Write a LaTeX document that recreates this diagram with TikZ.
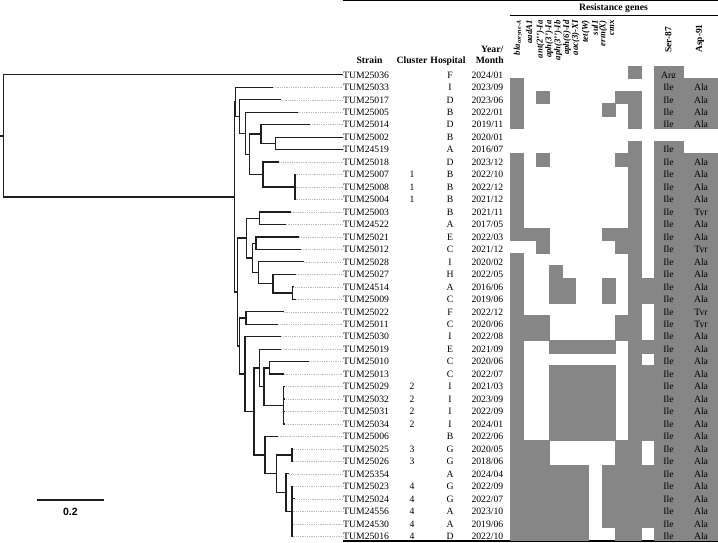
\documentclass[tikz,border=0pt]{standalone}
\usepackage{fontspec}
\setmainfont{Liberation Serif}
\newfontfamily\sansfnt{Liberation Sans}
\definecolor{cellg}{RGB}{134,134,134}
\definecolor{treec}{RGB}{30,30,30}
\definecolor{leadc}{RGB}{185,185,185}
\begin{document}
\begin{tikzpicture}[x=1pt,y=-1pt,
  txt/.style={inner sep=0pt,font=\fontsize{9.7}{11}\selectfont},
  hdr/.style={inner sep=0pt,font=\fontsize{9.7}{11}\selectfont\bfseries},
  gl/.style={inner sep=0pt,rotate=90,anchor=east,font=\fontsize{8.8}{10}\selectfont\bfseries\itshape},
  hrot/.style={inner sep=0pt,rotate=90,font=\fontsize{9.4}{11}\selectfont\bfseries},
  tree/.style={draw=treec,line width=1.25pt},
  leader/.style={draw=leadc,line width=0.45pt,dash pattern=on 0.9pt off 0.9pt},
  cell/.style={fill=cellg,draw=cellg,line width=0.2pt}]
\useasboundingbox (0,0) rectangle (718,542);

% rules
\draw[line width=1.3pt] (342.7,0.8) -- (718,0.8);
\draw[line width=0.6pt] (510,15) -- (718,15);
\draw[line width=1.3pt] (342.7,541) -- (718,541);

% header
\node[hdr,anchor=base] (hres) at (613.5,10) {Resistance genes};
\node[hdr,anchor=base] (hstrain) at (369.5,63.3) {Strain};
\node[hdr,anchor=base] (hclus) at (412,63.3) {Cluster};
\node[hdr,anchor=base] (hhosp) at (448,63.3) {Hospital};
\node[hdr,anchor=base east] (hyear) at (503.5,52) {Year/};
\node[hdr,anchor=base east] (hmonth) at (504,63.3) {Month};

\node[gl] (g1) at (518,20) {bla\textsubscript{coryne-A}};
\node[gl] (g2) at (529,20) {aadA1};
\node[gl] (g3) at (540.5,20) {ant(2{'}{'})-Ia};
\node[gl] (g4) at (549.3,20) {aph(3{'})-Ia};
\node[gl] (g5) at (558.3,20) {aph(3{'}{'})-Ib};
\node[gl] (g6) at (566.9,20) {aph(6)-Id};
\node[gl] (g7) at (575.8,20) {aac(3)-XI};
\node[gl] (g8) at (585.8,20) {tet(W)};
\node[gl] (g9) at (594.8,20) {sul1};
\node[gl] (g10) at (603.3,20) {erm(X)};
\node[gl] (g11) at (612,20) {cmx};
\node[hrot] (gser) at (668.3,40) {Ser-87};
\node[hrot] (gasp) at (700,38.5) {Asp-91};

% rows
\foreach \i/\sid/\cl/\hosp/\yr/\mo/\gb/\vser/\vasp/\tx in {
 1/TUM25036/{}/F/2024/01/{0,0,0,0,0,0,0,0,0,1,0}/Arg/{}/342.7,
 2/TUM25033/{}/I/2023/09/{1,0,0,0,0,0,0,0,0,0,0}/Ile/Ala/273,
 3/TUM25017/{}/D/2023/06/{1,0,1,0,0,0,0,0,1,1,0}/Ile/Ala/281,
 4/TUM25005/{}/B/2022/01/{1,0,0,0,0,0,0,1,0,1,0}/Ile/Ala/298.3,
 5/TUM25014/{}/D/2019/11/{1,0,0,0,0,0,0,0,0,1,0}/Ile/Ala/310,
 6/TUM25002/{}/B/2020/01/{0,0,0,0,0,0,0,0,0,0,0}/{}/{}/342.7,
 7/TUM24519/{}/A/2016/07/{0,0,0,0,0,0,0,0,0,1,0}/Ile/{}/342.7,
 8/TUM25018/{}/D/2023/12/{1,0,1,0,0,0,0,0,1,1,0}/Ile/Ala/279.3,
 9/TUM25007/1/B/2022/10/{1,0,0,0,0,0,0,0,0,1,0}/Ile/Ala/295.5,
 10/TUM25008/1/B/2022/12/{1,0,0,0,0,0,0,0,0,1,0}/Ile/Ala/295.5,
 11/TUM25004/1/B/2021/12/{1,0,0,0,0,0,0,0,0,1,0}/Ile/Ala/295.5,
 12/TUM25003/{}/B/2021/11/{1,0,0,0,0,0,0,0,0,1,0}/Ile/Tyr/290.7,
 13/TUM24522/{}/A/2017/05/{1,0,0,0,0,0,0,0,0,1,0}/Ile/Ala/285.7,
 14/TUM25021/{}/E/2022/03/{1,1,1,0,0,0,0,1,1,1,0}/Ile/Ala/299,
 15/TUM25012/{}/C/2021/12/{0,0,1,0,0,0,0,0,1,1,0}/Ile/Tyr/301,
 16/TUM25028/{}/I/2020/02/{1,0,0,0,0,0,0,0,0,1,0}/Ile/Ala/304,
 17/TUM25027/{}/H/2022/05/{1,0,0,1,0,0,0,0,0,1,0}/Ile/Ala/295.7,
 18/TUM24514/{}/A/2016/06/{1,0,0,1,1,0,0,1,0,1,1}/Ile/Ala/293.3,
 19/TUM25009/{}/C/2019/06/{1,0,0,1,1,0,0,1,0,1,1}/Ile/Ala/295.7,
 20/TUM25022/{}/F/2022/12/{1,0,0,0,0,0,0,0,0,1,0}/Ile/Tyr/283.7,
 21/TUM25011/{}/C/2020/06/{1,1,1,0,0,0,0,0,1,1,0}/Ile/Tyr/278.3,
 22/TUM25030/{}/I/2022/08/{1,1,1,0,0,0,0,0,1,1,0}/Ile/Ala/281,
 23/TUM25019/{}/E/2021/09/{1,0,0,1,1,1,1,1,0,1,1}/Ile/Ala/281,
 24/TUM25010/{}/C/2020/06/{1,0,0,0,0,0,0,0,0,1,0}/Ile/Ala/309.3,
 25/TUM25013/{}/C/2022/07/{1,0,0,1,1,1,1,1,0,1,1}/Ile/Ala/283.7,
 26/TUM25029/2/I/2021/03/{1,0,0,1,1,1,1,1,0,1,1}/Ile/Ala/284.3,
 27/TUM25032/2/I/2023/09/{1,0,0,1,1,1,1,1,0,1,1}/Ile/Ala/284.3,
 28/TUM25031/2/I/2022/09/{1,0,0,1,1,1,1,1,0,1,1}/Ile/Ala/284.3,
 29/TUM25034/2/I/2024/01/{1,0,0,1,1,1,1,1,0,1,1}/Ile/Ala/284.3,
 30/TUM25006/{}/B/2022/06/{1,0,0,1,1,1,1,1,0,1,1}/Ile/Ala/277.7,
 31/TUM25025/3/G/2020/05/{1,1,1,0,0,0,0,0,1,1,0}/Ile/Ala/292.5,
 32/TUM25026/3/G/2018/06/{1,1,1,0,0,0,0,0,1,1,0}/Ile/Ala/292.5,
 33/TUM25354/{}/A/2024/04/{1,1,1,1,1,1,0,1,1,1,1}/Ile/Ala/289.3,
 34/TUM25023/4/G/2022/09/{1,1,1,1,1,1,0,1,1,1,1}/Ile/Ala/292.5,
 35/TUM25024/4/G/2022/07/{1,1,1,1,1,1,0,1,1,1,1}/Ile/Ala/295.3,
 36/TUM24556/4/A/2023/10/{1,1,1,1,1,1,0,1,1,1,1}/Ile/Ala/292.5,
 37/TUM24530/4/A/2019/06/{1,1,1,1,1,1,0,1,1,1,1}/Ile/Ala/292.5,
 38/TUM25016/4/D/2022/10/{1,1,1,1,1,1,0,0,1,1,0}/Ile/Ala/292.5}{
  \pgfmathsetmacro\ly{74.8+(\i-1)*12.47}
  \pgfmathsetmacro\tyb{\ly+3.3}
  \pgfmathsetmacro\ct{66+(\i-1)*12.47}
  \pgfmathsetmacro\cb{\ct+12.47}
  \foreach \b [count=\j] in \gb {
    \ifnum\b=1
      \pgfmathsetmacro\xa{510+(\j-1)*13.09}
      \pgfmathsetmacro\xb{\xa+13.09}
      \path[cell] (\xa,\ct) rectangle (\xb,\cb);
    \fi
  }
  \ifx\vser\empty\else
    \path[cell] (654,\ct) rectangle (683.3,\cb);
    \node[txt,anchor=base] (ser\i) at (668.5,\tyb) {\vser};
  \fi
  \ifx\vasp\empty\else
    \path[cell] (683.3,\ct) rectangle (718,\cb);
    \node[txt,anchor=base] (asp\i) at (701,\tyb) {\vasp};
  \fi
  \node[txt,anchor=base west] (s\i) at (343,\tyb) {\sid};
  \node[txt,anchor=base] (c\i) at (412,\tyb) {\cl};
  \node[txt,anchor=base] (h\i) at (450,\tyb) {\hosp};
  \node[txt,anchor=base east] (d\i) at (503.5,\tyb) {\yr/\mo};
  \coordinate (t\i) at (\tx,\ly);
  \draw[leader] (t\i) -- (t\i -| s\i.west);
}

% tree internal nodes
\coordinate (rootstub) at (0,135.9);
\coordinate (root) at (3.3,135.9);
\coordinate (A) at (234.7,197);
\coordinate (B) at (235.7,101.9);
\coordinate (D) at (239.3,116.5);
\coordinate (E) at (245.3,133.3);
\coordinate (F) at (249.3,154.3);
\coordinate (G) at (261,134);
\coordinate (I) at (275.3,143.4);
\coordinate (H) at (263,174.6);
\coordinate (J) at (295,187);
\coordinate (C) at (237.3,292);
\coordinate (K) at (246.3,238.1);
\coordinate (L) at (259.7,218.2);
\coordinate (M) at (252.3,258);
\coordinate (N) at (256,243.15);
\coordinate (O) at (258.7,272.8);
\coordinate (P) at (273,283.7);
\coordinate (Q) at (292.7,293.05);
\coordinate (U) at (239.3,346);
\coordinate (R) at (246,317.9);
\coordinate (T) at (245,374.1);
\coordinate (V) at (254,411.5);
\coordinate (W) at (259.7,367.9);
\coordinate (Y) at (264,386.6);
\coordinate (Z) at (269.7,367.9);
\coordinate (AA) at (283.7,405.3);
\coordinate (X) at (265,455.1);
\coordinate (BB) at (276.3,473.8);
\coordinate (CC) at (292,455.1);
\coordinate (DD) at (286,492.5);
\coordinate (EE) at (292,511.3);

\draw[tree] (rootstub) -- (root);
\foreach \p/\ch in {root/t1,root/A,A/B,A/C,B/t2,B/D,D/t3,D/E,E/t4,E/F,F/G,F/H,
  G/t5,G/I,I/t6,I/t7,H/t8,H/J,J/t9,J/t10,J/t11,
  C/K,C/U,K/L,K/M,L/t12,L/t13,M/N,M/O,N/t14,N/t15,O/t16,O/P,P/t17,P/Q,Q/t18,Q/t19,
  U/R,U/T,R/t20,R/t21,T/t22,T/V,V/W,V/X,W/t23,W/Y,Y/Z,Y/AA,Z/t24,Z/t25,
  AA/t26,AA/t27,AA/t28,AA/t29,X/t30,X/BB,BB/CC,BB/DD,CC/t31,CC/t32,DD/t33,DD/EE,
  EE/t34,EE/t35,EE/t36,EE/t37,EE/t38}{
  \draw[tree] (\p) |- (\ch);
}

% scale bar
\coordinate (sb1) at (36.7,500);
\coordinate (sb2) at (104,500);
\draw[draw=treec,line width=1.5pt] (sb1) -- (sb2);
\node[inner sep=0pt,font=\sansfnt\bfseries\fontsize{10.5}{12}\selectfont] (sbl) at (70.3,512.3) {0.2};
\end{tikzpicture}
\end{document}
